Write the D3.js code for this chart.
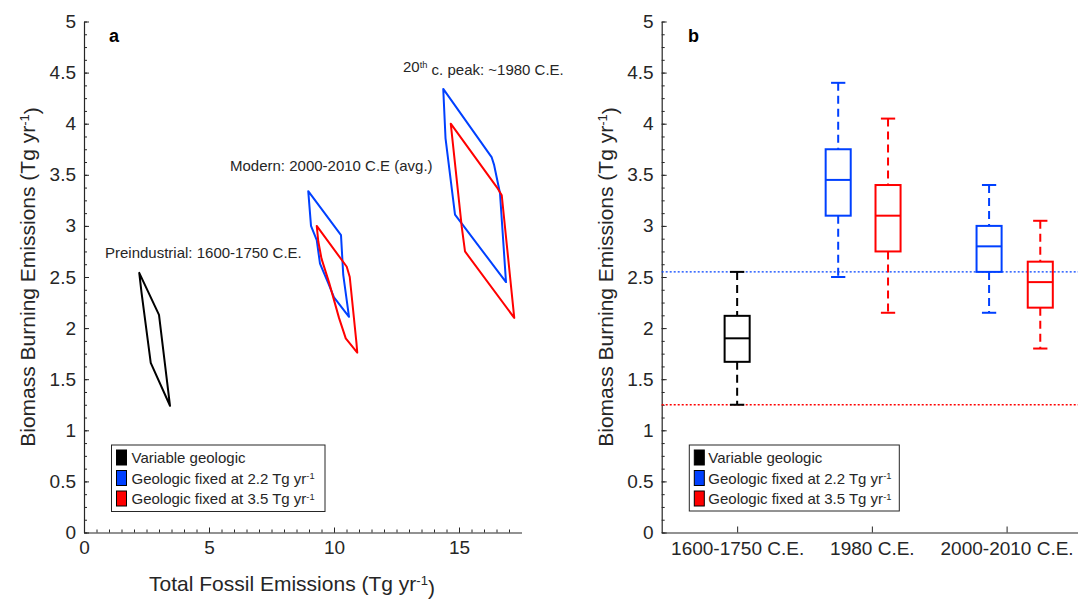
<!DOCTYPE html>
<html>
<head>
<meta charset="utf-8">
<script src="https://cdn.jsdelivr.net/npm/d3@7/dist/d3.min.js"></script>
<style>
  body { margin: 0; background: #ffffff; }
  svg { font-family: "Liberation Sans", Arial, sans-serif; }
  .axis path, .axis line { stroke: #262626; }
  .axis text { fill: #262626; font-size: 19px; }
</style>
</head>
<body>
<div id="chart"></div>
<script>
var svgWidth = 1078;
var svgHeight = 599;

// legend series
var seriesNames = ["Variable geologic", "Geologic fixed at 2.2 Tg yr", "Geologic fixed at 3.5 Tg yr"];
var seriesColors = ["#000000", "#0040ff", "#ff0000"];

// tick values
var yTickValues = [0, 0.5, 1, 1.5, 2, 2.5, 3, 3.5, 4, 4.5, 5];
var xTickValuesA = [0, 5, 10, 15];

// panel a: envelopes, [fossil, biomass]
var preindBlack = [[2.21, 2.54], [2.3, 2.35], [2.67, 1.66], [3.44, 1.24], [3.0, 2.13]];
var modernBlue = [[8.97, 3.34], [10.28, 2.91], [10.37, 2.52], [10.6, 2.11], [10.0, 2.3], [9.77, 2.44], [9.44, 2.63], [9.31, 2.86], [9.08, 3.0]];
var modernRed = [[9.31, 3.0], [10.51, 2.6], [10.63, 2.5], [10.9, 1.85], [10.93, 1.76], [10.47, 1.9], [10.2, 2.1], [9.81, 2.44], [9.5, 2.68], [9.37, 2.85]];
var peakBlue = [[14.37, 4.34], [16.31, 3.67], [16.4, 3.6], [16.64, 3.32], [16.88, 2.45], [14.84, 3.11], [14.46, 3.86]];
var peakRed = [[14.67, 4.0], [16.51, 3.38], [16.71, 3.3], [17.21, 2.1], [15.24, 2.75], [15.11, 2.99]];
var envelopes = [
  {pts: preindBlack, s: 0}, {pts: modernBlue, s: 1}, {pts: modernRed, s: 2},
  {pts: peakBlue, s: 1}, {pts: peakRed, s: 2}
];

// panel b: box plots [min, q1, median, q3, max]
var boxCategories = ["1600-1750 C.E.", "1980 C.E.", "2000-2010 C.E."];
var boxCategoryPos = [1, 2, 3];
var boxPos = [1, 1.75, 2.12, 2.87, 3.25];
var boxSeries = [0, 1, 2, 1, 2];
var boxStats = [
  [1.25, 1.67, 1.90, 2.12, 2.55],
  [2.5, 3.1, 3.45, 3.75, 4.4],
  [2.15, 2.75, 3.1, 3.4, 4.05],
  [2.15, 2.55, 2.8, 3.0, 3.4],
  [1.8, 2.2, 2.45, 2.65, 3.05]
];
var refLevels = [2.55, 1.25];
var refSeries = [1, 2];

var svg = d3.select("#chart")
  .append("svg")
  .attr("width", svgWidth)
  .attr("height", svgHeight);

var txt = "#262626";

function supText(sel, pre, sup, post) {
  sel.append("tspan").text(pre);
  sel.append("tspan").attr("dy", "-0.45em").attr("font-size", "0.62em").text(sup);
  if (post) sel.append("tspan").attr("dy", "0.45em").text(post);
}

function drawYAxis(y, xPos) {
  svg.append("g")
    .attr("class", "axis")
    .attr("transform", `translate(${xPos},0)`)
    .call(d3.axisLeft(y).tickValues(d3.range(0, 5.001, 0.125)).tickSize(-3).tickFormat(""))
    .call(g => g.select(".domain").remove());
  svg.append("g")
    .attr("class", "axis")
    .attr("transform", `translate(${xPos},0)`)
    .call(d3.axisLeft(y).tickValues(yTickValues).tickSizeInner(-5).tickSizeOuter(0).tickPadding(8).tickFormat(d => d + ""))
    .call(g => g.select(".domain").attr("stroke-width", 1.2));
}

function drawLegend(x0, y0, w, h, swX, txX) {
  var lg = svg.append("g").attr("transform", `translate(${x0},${y0})`);
  lg.append("rect")
    .attr("width", w).attr("height", h)
    .attr("fill", "#fff").attr("stroke", txt).attr("stroke-width", 1);
  seriesNames.forEach(function(name, i) {
    lg.append("rect")
      .attr("x", swX).attr("y", 5 + i * 20.5)
      .attr("width", 10).attr("height", 15)
      .attr("fill", seriesColors[i]).attr("stroke", "#000").attr("stroke-width", 1);
    var t = lg.append("text")
      .attr("x", txX).attr("y", 18 + i * 20.5)
      .attr("fill", txt).attr("font-size", "15px");
    if (i === 0) t.text(name);
    else supText(t, name, "-1");
  });
}

// ---------- panel a ----------
var xA = d3.scaleLinear().domain([0, 17.5]).range([84, 521.5]);
var yA = d3.scaleLinear().domain([0, 5]).range([532.5, 21.5]);

drawYAxis(yA, 84);

svg.append("g")
  .attr("class", "axis")
  .attr("transform", "translate(0,532.5)")
  .call(d3.axisBottom(xA).tickValues(d3.range(0, 17.5, 0.5)).tickSize(-3).tickFormat(""))
  .call(g => g.select(".domain").remove());
svg.append("g")
  .attr("class", "axis")
  .attr("transform", "translate(0,532.5)")
  .call(d3.axisBottom(xA).tickValues(xTickValuesA).tickSizeInner(-5).tickSizeOuter(0).tickPadding(8))
  .call(g => g.select(".domain").attr("stroke-width", 1.2));

var line = d3.line().x(d => xA(d[0])).y(d => yA(d[1])).curve(d3.curveLinearClosed);

svg.append("g").selectAll("path")
  .data(envelopes)
  .enter()
  .append("path")
  .attr("d", d => line(d.pts))
  .attr("fill", "none")
  .attr("stroke", d => seriesColors[d.s])
  .attr("stroke-width", 2)
  .attr("stroke-linejoin", "round");

svg.append("text").attr("x", 105).attr("y", 258)
  .attr("fill", txt).attr("font-size", "15px")
  .text("Preindustrial: 1600-1750 C.E.");
svg.append("text").attr("x", 230).attr("y", 171)
  .attr("fill", txt).attr("font-size", "15px")
  .text("Modern: 2000-2010 C.E (avg.)");
supText(svg.append("text").attr("x", 403).attr("y", 72)
  .attr("fill", txt).attr("font-size", "15px"), "20", "th", " c. peak: ~1980 C.E.");

svg.append("text").attr("x", 109).attr("y", 42)
  .attr("font-size", "18px").attr("font-weight", "bold").attr("fill", "#000").text("a");

drawLegend(111.5, 445, 213.5, 66.5, 5, 20);

supText(svg.append("text").attr("x", 292).attr("y", 591)
  .attr("text-anchor", "middle").attr("fill", txt).attr("font-size", "21px"),
  "Total Fossil Emissions (Tg yr", "-1", ")");

supText(svg.append("text")
  .attr("transform", "translate(35,277) rotate(-90)")
  .attr("text-anchor", "middle").attr("fill", txt).attr("font-size", "21px"),
  "Biomass Burning Emissions (Tg yr", "-1", ")");

// ---------- panel b ----------
var xB = d3.scaleLinear().domain([0.44, 3.53]).range([661.7, 1078]);
var yB = d3.scaleLinear().domain([0, 5]).range([532.5, 21.5]);

drawYAxis(yB, 661.7);

svg.append("g")
  .attr("class", "axis")
  .attr("transform", "translate(0,532.5)")
  .call(d3.axisBottom(xB).tickValues(boxCategoryPos).tickSizeInner(-6).tickSizeOuter(0).tickPadding(9)
    .tickFormat((d, i) => boxCategories[i]))
  .call(g => g.select(".domain").attr("stroke-width", 1.2));

svg.append("g").selectAll("line")
  .data(refLevels)
  .enter()
  .append("line")
  .attr("x1", xB(0.44)).attr("x2", xB(3.53))
  .attr("y1", d => yB(d)).attr("y2", d => yB(d))
  .attr("stroke", (d, i) => seriesColors[refSeries[i]])
  .attr("stroke-width", 1.3)
  .attr("stroke-dasharray", "2,2");

var halfBox = 0.093;
var halfCap = 0.053;

var boxes = svg.append("g").selectAll("g")
  .data(boxStats)
  .enter()
  .append("g")
  .attr("stroke", (d, i) => seriesColors[boxSeries[i]])
  .attr("stroke-width", 2)
  .attr("fill", "none");

boxes.each(function(d, i) {
  var g = d3.select(this);
  var c = boxPos[i];
  g.append("line").attr("x1", xB(c)).attr("x2", xB(c))
    .attr("y1", yB(d[4])).attr("y2", yB(d[3])).attr("stroke-dasharray", "8,5");
  g.append("line").attr("x1", xB(c)).attr("x2", xB(c))
    .attr("y1", yB(d[1])).attr("y2", yB(d[0])).attr("stroke-dasharray", "8,5");
  g.append("line").attr("x1", xB(c - halfCap)).attr("x2", xB(c + halfCap))
    .attr("y1", yB(d[4])).attr("y2", yB(d[4]));
  g.append("line").attr("x1", xB(c - halfCap)).attr("x2", xB(c + halfCap))
    .attr("y1", yB(d[0])).attr("y2", yB(d[0]));
  g.append("rect")
    .attr("x", xB(c - halfBox)).attr("width", xB(c + halfBox) - xB(c - halfBox))
    .attr("y", yB(d[3])).attr("height", yB(d[1]) - yB(d[3]));
  g.append("line").attr("x1", xB(c - halfBox)).attr("x2", xB(c + halfBox))
    .attr("y1", yB(d[2])).attr("y2", yB(d[2]));
});

svg.append("text").attr("x", 688).attr("y", 42)
  .attr("font-size", "18px").attr("font-weight", "bold").attr("fill", "#000").text("b");

drawLegend(689.3, 445, 210, 66, 5, 19);

supText(svg.append("text")
  .attr("transform", "translate(613,277) rotate(-90)")
  .attr("text-anchor", "middle").attr("fill", txt).attr("font-size", "21px"),
  "Biomass Burning Emissions (Tg yr", "-1", ")");
</script>
</body>
</html>
